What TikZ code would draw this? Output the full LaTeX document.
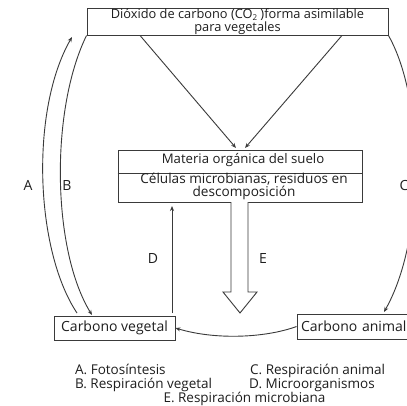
\documentclass[tikz,border=0pt]{standalone}
\usepackage{fontspec}
\setmainfont{Open Sans}
\usetikzlibrary{arrows.meta}
\definecolor{ink}{HTML}{3A3A3A}
\definecolor{txt}{HTML}{1E1E1E}
\begin{document}
\begin{tikzpicture}[x=1pt,y=-1pt,
  box/.style={draw=ink,line width=0.9pt,inner sep=0pt,text=txt},
  conn/.style={draw=ink,line width=0.9pt,-{Stealth[length=5pt,width=4pt]}},
  plain/.style={draw=ink,line width=0.9pt},
  lbl/.style={text=txt,font=\fontsize{14}{14}\selectfont,inner sep=0pt},
  leg/.style={text=txt,font=\fontsize{13.5}{13.5}\selectfont,inner sep=0pt}]
\useasboundingbox (0,0) rectangle (407,405);
\fill[white] (0,0) rectangle (407,405);
% boxes
\node[box,minimum width=301pt,minimum height=27pt,align=center,
  font=\fontsize{12.8}{10}\selectfont] (top) at (237.5,21.5)
  {Dióxido de carbono (CO\raisebox{-0.35ex}{\fontsize{8}{8}\selectfont 2} )forma asimilable\\para vegetales};
\node[box,minimum width=244pt,minimum height=52pt] (mom) at (240,176) {};
\draw[plain] (mom.west |- 0,173) coordinate (dl) -- (mom.east |- 0,173) coordinate (dr);
\node[lbl,font=\fontsize{13.2}{12}\selectfont] (t1) at (243,160) {Materia orgánica del suelo};
\node[lbl,align=center,font=\fontsize{13.6}{11}\selectfont] (t2) at (244,186.5) {Células microbianas, residuos en\\descomposición};
\node[box,minimum width=121pt,minimum height=24pt,font=\fontsize{14}{12}\selectfont] (veg) at (114.5,328) {Carbono vegetal};
\node[box,minimum width=128pt,minimum height=25pt,font=\fontsize{14}{12}\selectfont,text width=120pt,align=left] (ani) at (361,326.5) {Carbono animal};
% coordinates
\coordinate (m1) at (236,148);
\coordinate (m2) at (245,148);
% connectors from CO2 to soil organic matter
\draw[conn] (top.south west -| 140,0) -- (m1);
\draw[conn] (top.south west -| 342,0) -- (m2);
% A and B
\draw[conn] (77,313) .. controls (35,250) and (30,110) .. (72,37);
\draw[conn] (top.south west) .. controls (50,110) and (52,250) .. (92,315);
% C
\draw[conn] (top.south east) .. controls (425,100) and (425,240) .. (384,312);
% D
\draw[conn] (172,313) -- (172,206);
% bottom curve
\draw[conn] (ani.west) .. controls (265,338) and (215,340) .. (veg.east);
% E hollow arrow
\draw[plain,fill=white,line join=miter] (231,202) -- (231,292) -- (223,292) -- (240,313) -- (257,292) -- (248,292) -- (248,202);
% labels
\node[lbl] (la) at (28,185) {A};
\node[lbl] (lb) at (67,185) {B};
\node[lbl] (lc) at (404,185) {C};
\node[lbl] (ld) at (153,258) {D};
\node[lbl] (le) at (263,258) {E};
% legend
\node[leg,anchor=base west] (g1) at (75,374) {A. Fotosíntesis};
\node[leg,anchor=base west] (g2) at (75,388) {B. Respiración vegetal};
\node[leg,anchor=base west] (g3) at (250,374) {C. Respiración animal};
\node[leg,anchor=base west] (g4) at (249,388) {D. Microorganismos};
\node[leg,anchor=base] (g5) at (244.5,402) {E. Respiración microbiana};
\end{tikzpicture}
\end{document}
